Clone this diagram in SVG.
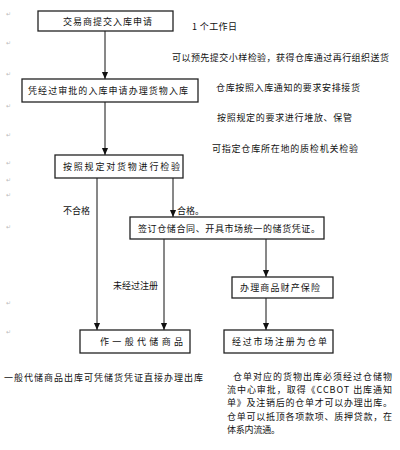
<svg xmlns="http://www.w3.org/2000/svg" width="400" height="450" viewBox="0 0 400 450">
<style>
text{font-family:"Noto Sans CJK SC","Noto Sans",sans-serif;font-size:9px;fill:#111}
.box{fill:#fff;stroke:#222;stroke-width:1.3}
.ln{stroke:#111;stroke-width:1;fill:none}
.pm{font-size:6px;fill:#bbb}
</style>
<defs>
<marker id="arr" markerWidth="7" markerHeight="8" refX="8" refY="3.5" orient="auto" markerUnits="userSpaceOnUse" viewBox="0 0 8 7">
<path d="M0,0 L8,3.5 L0,7 Z" fill="#111"/>
</marker>
</defs>
<rect width="400" height="450" fill="#fff"/>
<g id="connectors">
<line class="ln" x1="105" y1="31" x2="105" y2="79" marker-end="url(#arr)"/>
<line class="ln" x1="105" y1="102" x2="105" y2="155" marker-end="url(#arr)"/>
<line class="ln" x1="97" y1="178" x2="97" y2="330" marker-end="url(#arr)"/>
<line class="ln" x1="173" y1="178" x2="173" y2="217" marker-end="url(#arr)"/>
<line class="ln" x1="164" y1="239" x2="164" y2="330" marker-end="url(#arr)"/>
<line class="ln" x1="266" y1="239" x2="266" y2="277" marker-end="url(#arr)"/>
<line class="ln" x1="266" y1="298" x2="266" y2="330" marker-end="url(#arr)"/>
<text x="63" y="214" textLength="27" lengthAdjust="spacing">不合格</text>
<text x="177" y="214">合格。</text>
<text x="113" y="289" textLength="45" lengthAdjust="spacing">未经过注册</text>
</g>
<g id="n1">
<rect class="box" x="38" y="11" width="135" height="20"/>
<text x="63" y="24.5" textLength="89" lengthAdjust="spacing">交易商提交入库申请</text>
</g>
<g id="n2">
<rect class="box" x="22" y="79" width="176" height="23"/>
<text x="28" y="94" textLength="160" lengthAdjust="spacing">凭经过审批的入库申请办理货物入库</text>
</g>
<g id="n3">
<rect class="box" x="55" y="155" width="128" height="23"/>
<text x="63" y="170" textLength="117" lengthAdjust="spacing">按照规定对货物进行检验</text>
</g>
<g id="n4">
<rect class="box" x="130" y="217" width="194" height="22"/>
<text x="138" y="231.5" textLength="182" lengthAdjust="spacing">签订仓储合同、开具市场统一的储货凭证。</text>
</g>
<g id="n5">
<rect class="box" x="232" y="277" width="101" height="21"/>
<text x="240" y="291" textLength="80" lengthAdjust="spacing">办理商品财产保险</text>
</g>
<g id="n6">
<rect class="box" x="224" y="330" width="109" height="23"/>
<text x="232" y="345" textLength="95" lengthAdjust="spacing">经过市场注册为仓单</text>
</g>
<g id="n7">
<rect class="box" x="80" y="330" width="110" height="23"/>
<text x="100" y="345" textLength="83" lengthAdjust="spacing">作一般代储商品</text>
</g>
<g id="notes">
<text x="192" y="30" textLength="45" lengthAdjust="spacing">1 个工作日</text>
<text x="172" y="61" textLength="217" lengthAdjust="spacing">可以预先提交小样检验，获得仓库通过再行组织送货</text>
<text x="216" y="91" textLength="144" lengthAdjust="spacing">仓库按照入库通知的要求安排接货</text>
<text x="217" y="121" textLength="135" lengthAdjust="spacing">按照规定的要求进行堆放、保管</text>
<text x="212" y="152" textLength="146" lengthAdjust="spacing">可指定仓库所在地的质检机关检验</text>
<text x="4" y="381" textLength="199" lengthAdjust="spacing">一般代储商品出库可凭储货凭证直接办理出库</text>
<text x="233" y="380" textLength="159" lengthAdjust="spacing">仓单对应的货物出库必须经过仓储物</text>
<text x="227" y="393" textLength="165" lengthAdjust="spacing">流中心审批，取得《CCBOT 出库通知</text>
<text x="227" y="406" textLength="165" lengthAdjust="spacing">单》及注销后的仓单才可以办理出库。</text>
<text x="227" y="420" textLength="165" lengthAdjust="spacing">仓单可以抵顶各项款项、质押贷款，在</text>
<text x="227" y="433" textLength="53" lengthAdjust="spacing">体系内流通。</text>
</g>
<g id="marks">
<text class="pm" x="6" y="16">↵</text>
<text class="pm" x="6" y="45">↵</text>
<text class="pm" x="6" y="76">↵</text>
<text class="pm" x="6" y="108">↵</text>
<text class="pm" x="6" y="137">↵</text>
<text class="pm" x="6" y="165">↵</text>
<text class="pm" x="6" y="182">↵</text>
<text class="pm" x="6" y="197">↵</text>
<text class="pm" x="6" y="229">↵</text>
<text class="pm" x="6" y="305">↵</text>
<text class="pm" x="6" y="334">↵</text>
</g>
</svg>
